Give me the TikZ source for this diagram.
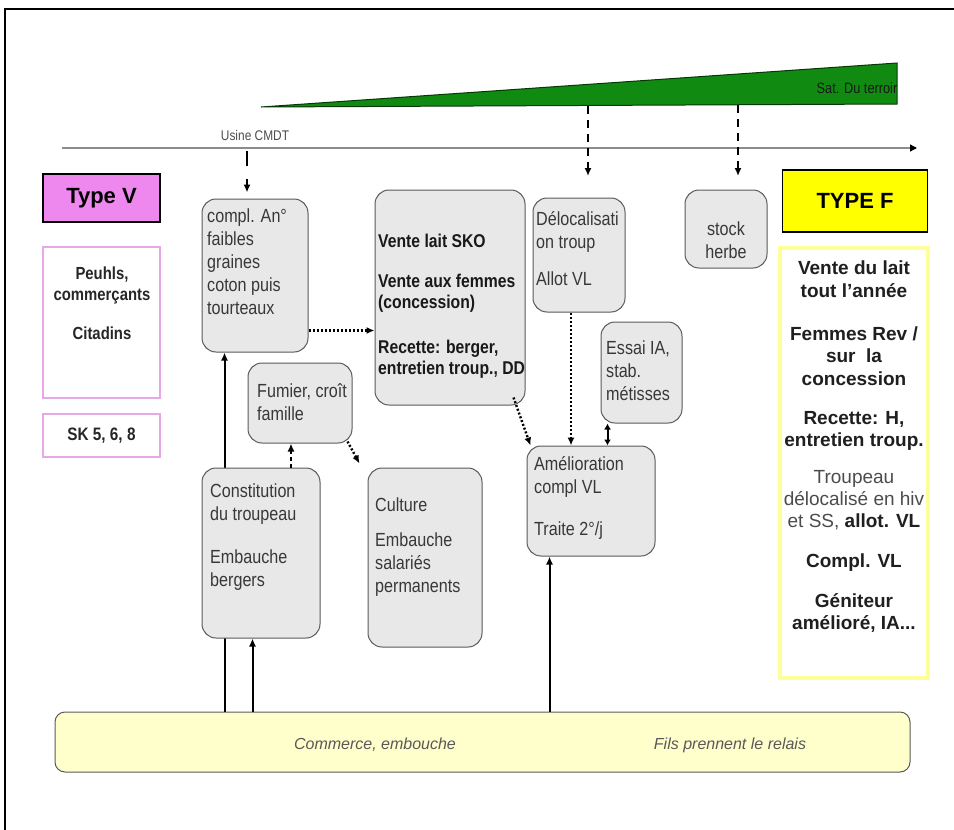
\documentclass[tikz,border=0pt]{standalone}
\usepackage{fontspec}
\setmainfont{Liberation Sans}
\newfontfamily\narrowfont{Liberation Sans}[FakeStretch=0.85]
\usetikzlibrary{arrows.meta,calc}
\definecolor{boxfill}{HTML}{E8E8E8}
\definecolor{boxline}{HTML}{5A5A5A}
\definecolor{typev}{HTML}{EE88EE}
\definecolor{pinkline}{HTML}{E6A8E6}
\definecolor{typef}{HTML}{FFFF00}
\definecolor{yline}{HTML}{FFFF99}
\definecolor{barfill}{HTML}{FFFFCC}
\definecolor{wedgegreen}{HTML}{118A11}
\definecolor{axisgray}{HTML}{8C8C8C}
\begin{document}
\begin{tikzpicture}[x=1pt,y=-1pt,
  gbox/.style={draw=boxline, fill=boxfill, line width=1pt, rounded corners=14pt, inner sep=0pt},
  gtxt/.style={inner sep=0pt, align=left, text=black!78, font=\narrowfont\fontsize{19}{23}\selectfont},
  gbold/.style={inner sep=0pt, align=left, text=black!90, font=\narrowfont\bfseries\fontsize{18.5}{21}\selectfont},
  pbox/.style={draw=pinkline, line width=2pt, fill=white, inner sep=0pt},
  head/.style={draw=black, line width=1.2pt, inner sep=0pt, font=\bfseries\fontsize{22}{24}\selectfont},
  ptxt/.style={inner sep=0pt, align=center, text=black!85, font=\narrowfont\bfseries\fontsize{17.5}{21}\selectfont},
  ftxt/.style={inner sep=0pt, align=center, text=black!88, font=\bfseries\fontsize{19}{22.3}\selectfont},
  sol/.style={line width=2pt, black},
  tipA/.style={-{Latex[length=8pt,width=7pt]}},
  dotline/.style={line width=2.4pt, dash pattern=on 2pt off 2pt, black},
  dashline/.style={line width=2.2pt, dash pattern=on 8pt off 6pt, black},
]
\useasboundingbox (0,0) rectangle (954,830);
% frame
\draw[line width=2.5pt] (5,840) -- (5,9) -- (965,9);

% wedge
\coordinate (wtip) at (261,107);
\coordinate (wtr) at (897,63);
\coordinate (wbr) at (897,104);
\filldraw[fill=wedgegreen, draw=black!60!wedgegreen, line width=1pt] (wtip) -- (wtr) -- (wbr) -- cycle;
\node[inner sep=0pt, text=black!90, font=\narrowfont\fontsize{15}{16}\selectfont] (sat) at (857,88) {Sat. Du terroir};

% axis
\coordinate (ax0) at (62,148);
\coordinate (ax1) at (917,148);
\draw[line width=1.3pt, axisgray, -{Triangle[color=black,length=7pt,width=7pt]}] (ax0) -- (ax1);
\node[inner sep=0pt, text=black!70, font=\narrowfont\fontsize{14}{15}\selectfont] (usine) at (255,135) {Usine CMDT};

% left column
\node[head, fill=typev, minimum width=117, minimum height=48] (typev) at (101.5,198) {Type V};
\node[pbox, minimum width=117, minimum height=151] (peuhls) at (101.5,322.5) {};
\node[ptxt, anchor=north] (peuhls-t) at (102,267) {Peuhls,\\commerçants\\[18pt]Citadins};
\node[pbox, minimum width=117, minimum height=43, ptxt, font=\narrowfont\bfseries\fontsize{18}{21}\selectfont] (sk) at (101.5,435.5) {SK 5, 6, 8};

% right column
\node[head, fill=typef, minimum width=145, minimum height=62] (typef) at (855,201) {TYPE F};
\node[draw=yline, line width=4pt, fill=white, minimum width=148, minimum height=430, inner sep=0pt] (fbox) at (854,463) {};
\node[ftxt, anchor=north] (fbox-t) at (854,261) {Vente du lait\\tout l’année\\[21pt]
Femmes Rev /\\sur\ \ la\\concession\\[17pt]
Recette: H,\\entretien troup.\\[14pt]
{\mdseries\color{black!70}Troupeau}\\{\mdseries\color{black!70}délocalisé en hiv}\\{\mdseries\color{black!70}et SS,} allot. VL\\[18pt]
Compl. VL\\[17pt]
Géniteur\\amélioré, IA...};

% bottom bar
\node[draw=boxline, fill=barfill, line width=1pt, rounded corners=10pt, minimum width=855, minimum height=60, inner sep=0pt] (bar) at (482.5,742) {};
\node[inner sep=0pt, text=black!65, font=\itshape\fontsize{16}{18}\selectfont] (comm) at (375,745) {Commerce, embouche};
\node[inner sep=0pt, text=black!65, font=\itshape\fontsize{16}{18}\selectfont] (fils) at (730,745) {Fils prennent le relais};

% gray boxes
\node[gbox, minimum width=106, minimum height=153] (compl) at (255,275.5) {};
\node[gbox, minimum width=150, minimum height=215] (vente) at (450,297.5) {};
\node[gbox, minimum width=92, minimum height=114] (deloc) at (579,255) {};
\node[gbox, minimum width=82, minimum height=78] (stock) at (726,229) {};
\node[gbox, minimum width=81, minimum height=101] (essai) at (641.5,372.5) {};
\node[gbox, minimum width=104, minimum height=80] (fumier) at (300,403) {};

% long connector passing behind the constitution box
\draw[sol, tipA] ([xshift=23pt]compl.south west |- bar.north) -- ([xshift=23pt]compl.south west);

\node[gbox, minimum width=118, minimum height=170] (constit) at (261,553) {};
\node[gbox, minimum width=114, minimum height=179] (culture) at (425,557.5) {};
\node[gbox, minimum width=128, minimum height=110] (amelio) at (591,501) {};

% texts in gray boxes
\node[gtxt, anchor=north west] (compl-t) at (207,209) {compl. An°\\faibles\\graines\\coton puis\\tourteaux};
\node[gbold, anchor=north west] (vente-t) at (378,234) {Vente lait SKO\\[19pt]Vente aux femmes\\(concession)\\[24pt]Recette: berger,\\entretien troup., DD};
\node[gtxt, anchor=north west] (deloc-t) at (536,211) {Délocalisati\\on troup\\[14pt]Allot VL};
\node[gtxt, align=center] (stock-t) at (726,240) {stock\\herbe};
\node[gtxt, anchor=north west] (essai-t) at (606,341) {Essai IA,\\stab.\\métisses};
\node[gtxt, anchor=north west] (fumier-t) at (257,383) {Fumier, croît\\famille};
\node[gtxt, anchor=north west] (constit-t) at (210,484) {Constitution\\du troupeau\\[20pt]Embauche\\bergers};
\node[gtxt, anchor=north west] (culture-t) at (375,498) {Culture\\[12pt]Embauche\\salariés\\permanents};
\node[gtxt, anchor=north west] (amelio-t) at (534,456) {Amélioration\\compl VL\\[19pt]Traite 2°/j};

% connectors
\draw[sol, tipA] ([xshift=51pt]constit.south west |- bar.north) -- ([xshift=51pt]constit.south west);
\draw[sol, tipA] ([xshift=23pt]amelio.south west |- bar.north) -- ([xshift=23pt]amelio.south west);
\draw[dotline, tipA] ([yshift=-55pt]compl.east) -- ([yshift=-55pt]compl.east -| vente.west);
\draw[dashline, dash pattern=on 4pt off 3pt, tipA] ([xshift=-9pt]fumier.south |- constit.north) -- ([xshift=-9pt]fumier.south);
\draw[dotline, tipA] ([xshift=-5pt,yshift=2pt]fumier.south east) -- ([xshift=-8pt,yshift=4pt]culture.north west);
\draw[dotline, tipA] ([xshift=-12pt,yshift=8pt]vente.south east) -- ([xshift=4pt]amelio.north west);
\draw[dotline, tipA] ([xshift=-8pt]deloc.south) -- ([xshift=-8pt]deloc.south |- amelio.north);
\draw[sol, {Latex[length=6pt,width=7pt]}-{Latex[length=6pt,width=7pt]}] ([xshift=7pt]essai.south west) -- ([xshift=7pt]essai.south west |- amelio.north);

% top arrows
\coordinate (usine-top) at (247,151);
\coordinate (usine-mid) at (247,166);
\coordinate (usine-low) at (247,179);
\draw[line width=2.4pt] (usine-top) -- (usine-mid);
\draw[line width=2.2pt, tipA] (usine-low) -- ([yshift=6pt]usine-low |- compl.north);
\coordinate (w1) at (588,106);
\coordinate (w1e) at (588,176);
\coordinate (w2) at (738,105);
\coordinate (w2e) at (738,176);
\draw[dashline, tipA] (w1) -- (w1e);
\draw[dashline, tipA] (w2) -- (w2e);
\end{tikzpicture}
\end{document}
